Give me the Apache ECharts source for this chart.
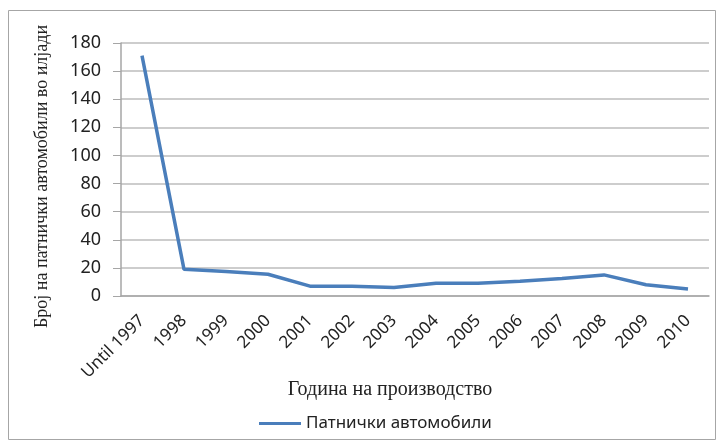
<!DOCTYPE html>
<html>
<head>
<meta charset="utf-8">
<script src="https://cdn.jsdelivr.net/npm/echarts@6/dist/echarts.min.js"></script>
<style>
  html, body { margin: 0; padding: 0; background: #fff; }
  #main { width: 718px; height: 444px; }
</style>
</head>
<body>
<div id="main"></div>
<script>
var years = ['Until 1997', '1998', '1999', '2000', '2001', '2002', '2003',
  '2004', '2005', '2006', '2007', '2008', '2009', '2010'];
var cars = [171, 19, 17.5, 15.5, 7, 7, 6, 9, 9, 10.5, 12.5, 15, 8, 5];
var seriesName = 'Патнички автомобили';

var chartDom = document.getElementById('main');
var myChart = echarts.init(chartDom);
var option;

option = {
  animation: false,
  graphic: [{
    type: 'rect',
    shape: { x: 8.5, y: 10.5, width: 707, height: 429 },
    style: { fill: 'none', stroke: '#a6a6a6', lineWidth: 1 }
  }],
  grid: { left: 121, right: 9, top: 43, bottom: 148 },
  legend: {
    top: 410,
    left: 254,
    itemWidth: 42,
    itemHeight: 3,
    itemGap: 4,
    icon: 'rect',
    textStyle: { fontFamily: 'Noto Sans', fontSize: 17, color: '#222' },
    data: [seriesName]
  },
  xAxis: {
    type: 'category',
    data: years,
    boundaryGap: true,
    name: 'Година на производство',
    nameLocation: 'middle',
    nameGap: 84,
    nameMoveOverlap: false,
    nameTextStyle: {
      fontFamily: 'Liberation Serif', fontSize: 20, color: '#222',
      padding: [0, 50, 0, 0]
    },
    axisLine: { lineStyle: { color: '#a6a6a6', width: 1.5 } },
    axisTick: { show: false },
    axisLabel: {
      rotate: 45,
      interval: 0,
      margin: 22,
      fontFamily: 'Noto Sans',
      fontSize: 17,
      color: '#222'
    }
  },
  yAxis: {
    type: 'value',
    min: 0,
    max: 180,
    interval: 20,
    name: 'Број на патнички автомобили во илјади',
    nameLocation: 'middle',
    nameGap: 70,
    nameTextStyle: {
      fontFamily: 'Liberation Serif', fontSize: 18, color: '#222',
      padding: [0, 14, 0, 0]
    },
    axisLine: { show: true, lineStyle: { color: '#a6a6a6', width: 1.5 } },
    axisTick: { show: true, length: 8, lineStyle: { color: '#a6a6a6' } },
    axisLabel: { fontFamily: 'Noto Sans', fontSize: 18, color: '#222', margin: 20 },
    splitLine: { lineStyle: { color: '#bdbdbd', width: 1.5 } }
  },
  series: [{
    name: seriesName,
    type: 'line',
    data: cars,
    symbol: 'none',
    color: '#4a7ebb',
    lineStyle: { width: 3.5 }
  }]
};

option && myChart.setOption(option);
</script>
</body>
</html>
